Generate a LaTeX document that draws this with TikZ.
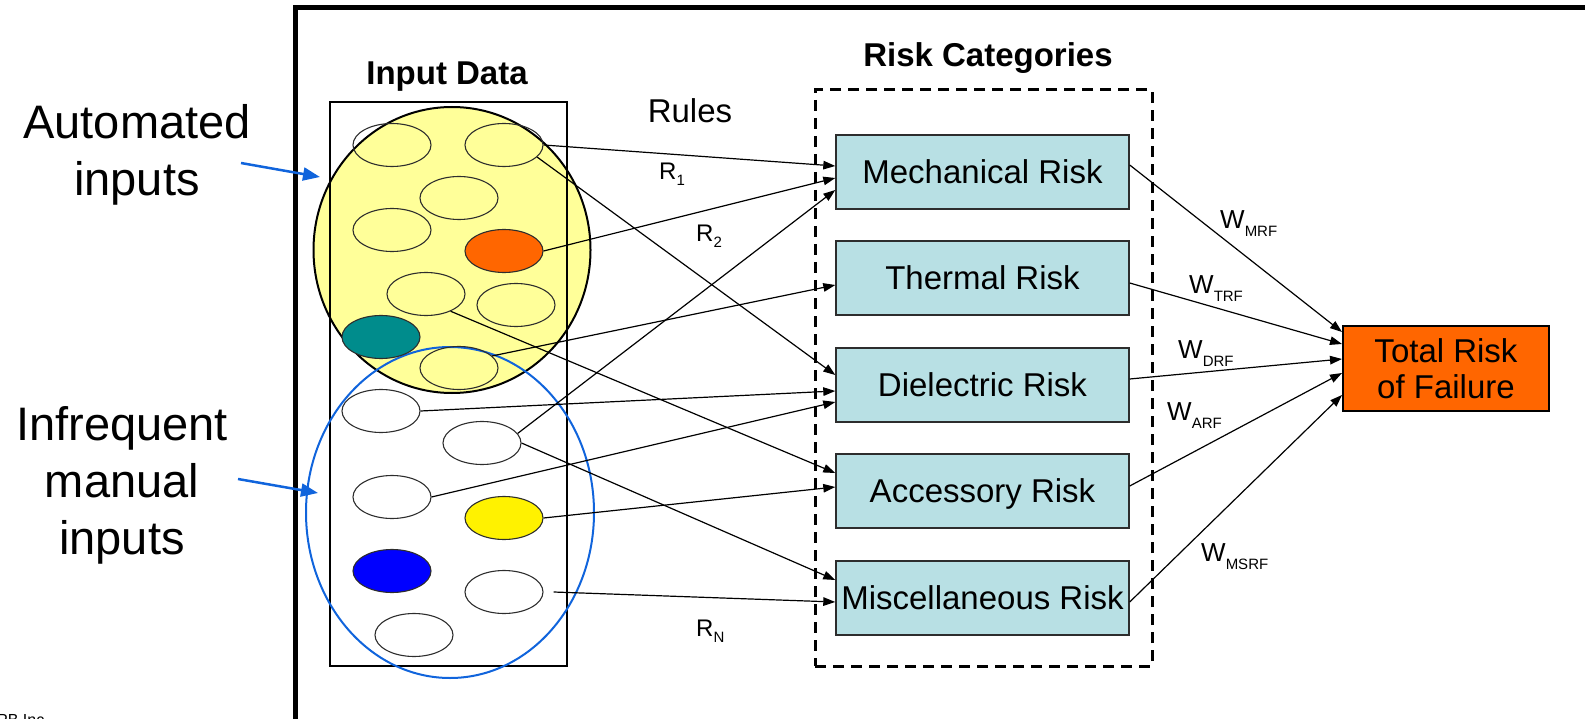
\documentclass[tikz,border=0pt]{standalone}
\usepackage{fontspec}
\setmainfont{Liberation Sans}
\usetikzlibrary{shapes.geometric,arrows.meta}
\definecolor{riskfill}{RGB}{184,224,228}
\definecolor{outfill}{RGB}{255,102,0}
\definecolor{autofill}{RGB}{255,255,153}
\definecolor{manualblue}{RGB}{16,100,220}
\definecolor{tealdot}{RGB}{0,140,140}
\definecolor{outlinegray}{RGB}{45,45,45}
% lowered small index, e.g. R_1 or W_MRF
\newcommand\lowsub[2]{\raisebox{#1}{\fontsize{15}{15}\selectfont #2}}

\begin{document}
\begin{tikzpicture}[x=1pt,y=-1pt,
  datum/.style={ellipse, draw=outlinegray, line width=1.1pt,
    minimum width=78pt, minimum height=43pt, inner sep=0pt},
  riskbox/.style={draw=outlinegray, line width=1.4pt, fill=riskfill,
    minimum width=293pt, minimum height=74pt, inner sep=0pt,
    font=\fontsize{33}{36}\selectfont, text height=23.6pt, text depth=0pt},
  ruleflow/.style={line width=1.2pt, -{Triangle[length=12pt,width=8.5pt]}},
  lbl/.style={inner sep=0pt, anchor=base west, font=\fontsize{26}{26}\selectfont},
  heading/.style={inner sep=0pt, anchor=base, font=\bfseries\fontsize{33}{33}\selectfont},
  callout/.style={manualblue, line width=2.5pt, -{Triangle[length=17pt,width=13pt]}},
  bigtxt/.style={inner sep=0pt, align=center, font=\fontsize{47}{57}\selectfont},
]
\useasboundingbox (0,0) rectangle (1585,719);

% slide frame
\draw[line width=4.5pt] (295.5,719) -- (295.5,7.5) -- (1585,7.5);

% footer, cut by the page edge
\begin{scope}
  \clip (0,0) rectangle (1585,719);
  \node[inner sep=0pt, anchor=base west, font=\fontsize{16}{16}\selectfont] (footer) at (-3,725) {PB Inc.};
\end{scope}

% side captions
\node[bigtxt, anchor=north] (autotxt) at (137,104.5) {Automated\\inputs};
\node[bigtxt, anchor=north] (mantxt) at (122,406) {Infrequent\\manual\\inputs};

% input data group
\node[heading] (inhead) at (447,85) {Input Data};
\node[ellipse, draw=black, fill=autofill, line width=2pt, inner sep=0pt,
      minimum width=277pt, minimum height=286pt] (autogrp) at (452,250) {};
\node[draw=black, line width=2.5pt, minimum width=237pt, minimum height=564pt,
      inner sep=0pt] (inputs) at (448.5,384) {};
\node[ellipse, draw=manualblue, line width=2pt, inner sep=0pt,
      minimum width=288pt, minimum height=331pt] (mangrp) at (450,512.5) {};

\node[datum] (e1) at (392,145) {};
\node[datum] (e2) at (504,145) {};
\node[datum] (e3) at (459,198) {};
\node[datum] (e4) at (392,230) {};
\node[datum, fill=outfill] (e5) at (504,251) {};
\node[datum] (e6) at (426,294) {};
\node[datum] (e7) at (516,305) {};
\node[datum, fill=tealdot] (e8) at (381,337) {};
\node[datum] (e9) at (459,368) {};
\node[datum] (e10) at (381,411) {};
\node[datum] (e11) at (482,443) {};
\node[datum] (e12) at (392,497) {};
\node[datum, fill=yellow] (e13) at (504,518) {};
\node[datum, fill=blue] (e14) at (392,571) {};
\node[datum] (e15) at (504,592) {};
\node[datum] (e16) at (414,635) {};

% callout arrows
\coordinate (autoS) at (241,163);
\coordinate (autoE) at (320,177);
\coordinate (manS) at (238,479);
\coordinate (manE) at (318,493);
\draw[callout] (autoS) -- (autoE);
\draw[callout] (manS) -- (manE);

% risk categories
\node[heading] (cathead) at (988,67) {Risk Categories};
\node[draw=black, dash pattern=on 11pt off 7pt, line width=3pt, inner sep=0pt,
      minimum width=337pt, minimum height=576pt] (cats) at (983.5,378) {};

\node[riskbox] (mech)  at (982.5,172) {Mechanical Risk};
\node[riskbox] (therm) at (982.5,278) {Thermal Risk};
\node[riskbox] (diel)  at (982.5,385) {Dielectric Risk};
\node[riskbox] (acc)   at (982.5,491) {Accessory Risk};
\node[riskbox] (misc)  at (982.5,598) {Miscellaneous Risk};

\node[draw=black, line width=2pt, fill=outfill, minimum width=206pt, minimum height=85pt,
      inner sep=0pt, align=center, font=\fontsize{33}{36}\selectfont] (total) at (1446,368.5)
      {Total Risk\\of Failure};

% rules
\node[inner sep=0pt, anchor=base, font=\fontsize{33}{33}\selectfont] (rules) at (690,123) {Rules};
\draw[ruleflow] (e2.east)  -- (mech.west |- 0,166);
\draw[ruleflow] (e5.east)  -- (mech.west |- 0,178);
\draw[ruleflow] (e11.15)   -- (mech.west |- 0,190);
\draw[ruleflow] (e9.20)    -- (therm.west |- 0,285);
\draw[ruleflow] (e2.-20)   -- (diel.west |- 0,375);
\draw[ruleflow] (e10.east) -- (diel.west |- 0,391);
\draw[ruleflow] (e12.east) -- (diel.west |- 0,402);
\draw[ruleflow] (e6.-35)   -- (acc.west |- 0,473);
\draw[ruleflow] (e13.east) -- (acc.west |- 0,487);
\draw[ruleflow] (e11.east) -- (misc.west |- 0,580);
\draw[ruleflow] ([xshift=10pt]e15.east) -- (misc.west |- 0,602);

\node[lbl, font=\fontsize{24}{24}\selectfont] (r1) at (659,180) {R\lowsub{-6pt}{1}};
\node[lbl, font=\fontsize{24}{24}\selectfont] (r2) at (696,242) {R\lowsub{-6pt}{2}};
\node[lbl, font=\fontsize{24}{24}\selectfont] (rn) at (696,636) {R\lowsub{-6pt}{N}};

% weights
\draw[ruleflow] (mech.east |- 0,165)  -- (total.west |- 0,332);
\draw[ruleflow] (therm.east |- 0,283) -- (total.west |- 0,344);
\draw[ruleflow] (diel.east |- 0,379)  -- (total.west |- 0,359);
\draw[ruleflow] (acc.east |- 0,486)   -- (total.west |- 0,373);
\draw[ruleflow] (misc.east |- 0,602)  -- (total.west |- 0,395);

\node[lbl] (wm)  at (1220,229) {W\lowsub{-8pt}{MRF}};
\node[lbl] (wt)  at (1189,294) {W\lowsub{-8pt}{TRF}};
\node[lbl] (wd)  at (1178,358) {W\lowsub{-8pt}{DRF}};
\node[lbl] (wa)  at (1167,420) {W\lowsub{-8pt}{ARF}};
\node[lbl] (wms) at (1201,561) {W\lowsub{-8pt}{MSRF}};
\end{tikzpicture}
\end{document}
